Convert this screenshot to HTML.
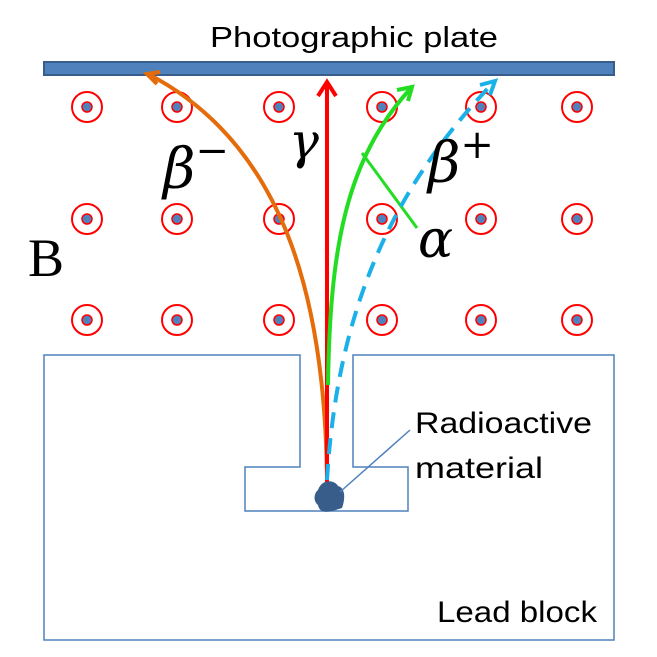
<!DOCTYPE html>
<html><head><meta charset="utf-8"><style>body{margin:0;background:#fff}svg{display:block}</style></head>
<body>
<svg width="657" height="657" viewBox="0 0 657 657" xmlns="http://www.w3.org/2000/svg">
<text x="210" y="47" font-family="Liberation Sans, sans-serif" font-size="29" textLength="288" lengthAdjust="spacingAndGlyphs">Photographic plate</text>
<rect x="44" y="62" width="570" height="13" fill="#4f81bd" stroke="#385d8a" stroke-width="2"/>
<g id="field"></g>
<path d="M44,355 H300 V467 H245 V511 H408 V467 H353 V355 H614 V640 H44 Z" fill="none" stroke="#4f81bd" stroke-width="1.5"/>
<path d="M327,480 C325,300 285,145 148,74" fill="none" stroke="#e46c0a" stroke-width="4"/>
<path d="M160,72 L147,74 L157,84" fill="none" stroke="#e46c0a" stroke-width="4"/>
<line x1="327" y1="490" x2="327" y2="84" stroke="#ff0000" stroke-width="4"/>
<path d="M318,96 L327,82 L336,96" fill="none" stroke="#ff0000" stroke-width="4"/>
<path d="M328,385 C330,250 345,160 411,88" fill="none" stroke="#22dd22" stroke-width="4"/>
<path d="M397,90 L412,87 L408,101" fill="none" stroke="#22dd22" stroke-width="4"/>
<line x1="362" y1="153" x2="417" y2="228" stroke="#22dd22" stroke-width="3"/>
<path d="M327,480 C336,330 380,200 494,82" fill="none" stroke="#1ab0e8" stroke-width="4" stroke-dasharray="16,10"/>
<path d="M480,85 L495,81 L490,95" fill="none" stroke="#1ab0e8" stroke-width="4"/>
<path d="M318,490 C322,478 335,480 338,486 C346,488 345,500 342,508 C330,512 320,515 318,505 C312,500 315,492 318,490 Z" fill="#385d8a"/>
<line x1="340" y1="492" x2="410" y2="430" stroke="#4f81bd" stroke-width="1.5"/>
<text x="415" y="433" font-family="Liberation Sans, sans-serif" font-size="30" textLength="177" lengthAdjust="spacingAndGlyphs">Radioactive</text>
<text x="415" y="478" font-family="Liberation Sans, sans-serif" font-size="30" textLength="128" lengthAdjust="spacingAndGlyphs">material</text>
<text x="437" y="622" font-family="Liberation Sans, sans-serif" font-size="30" textLength="160" lengthAdjust="spacingAndGlyphs">Lead block</text>
<g font-family="DejaVu Serif, Liberation Serif, serif" font-style="italic" fill="#000">
<text x="163" y="188" font-size="56">β<tspan font-size="40" dy="-24" font-style="normal">−</tspan></text>
<text x="289" y="158" font-size="50">γ</text>
<text x="428" y="182" font-size="56">β<tspan font-size="40" dy="-24" font-style="normal">+</tspan></text>
<text x="418" y="257" font-size="52">α</text>
</g>
<text x="28" y="276" font-family="Liberation Serif, serif" font-size="54">B</text>
<script>
const cols=[87,177,279,382,481,577];
const rows=[107,219,320];
const g=document.getElementById('field');
const ns='http://www.w3.org/2000/svg';
rows.forEach(y=>cols.forEach(x=>{
 const c=document.createElementNS(ns,'circle');
 c.setAttribute('cx',x);c.setAttribute('cy',y);c.setAttribute('r',15);
 c.setAttribute('fill','none');c.setAttribute('stroke','#ff0000');c.setAttribute('stroke-width','2');
 
 
 g.appendChild(c);
 const d=document.createElementNS(ns,'circle');
 d.setAttribute('cx',x);d.setAttribute('cy',y);d.setAttribute('r',5);
 d.setAttribute('fill','#4f81bd');d.setAttribute('stroke','#ff0000');d.setAttribute('stroke-width','1.5');
 
 
 g.appendChild(d);
}));
</script>
</svg>
</body></html>
